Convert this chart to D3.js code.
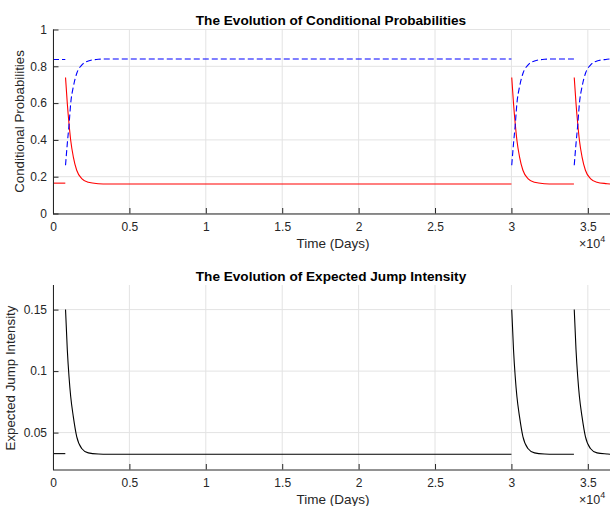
<!DOCTYPE html>
<html lang="en">
<head>
<meta charset="UTF-8">
<script src="https://d3js.org/d3.v7.min.js"></script>
<title>Conditional Probabilities</title>
<style>
  body { margin: 0; background: #fff; }
  text { font-family: "Liberation Sans", Arial, Helvetica, sans-serif; }
</style>
</head>
<body>
<div id="chart"></div>
<script>
// time points (days) of each segment
var seg0Days = [0, 805];
var seg1Days = [820, 936, 1047, 1158, 1329, 1551, 1878, 2310, 2965, 3600, 30000];
var seg2Days = [30020, 30136, 30247, 30358, 30529, 30751, 31078, 31510, 32165, 32800, 34090];
var seg3Days = [34110, 34226, 34337, 34448, 34619, 34841, 35168, 35600, 36255, 36450];

// conditional probabilities (red solid)
var red0 = [0.165, 0.165];
var red1 = [0.739, 0.598, 0.489, 0.398, 0.308, 0.235, 0.190, 0.170, 0.162, 0.160, 0.160];
var red2 = [0.739, 0.598, 0.489, 0.398, 0.308, 0.235, 0.190, 0.170, 0.162, 0.160, 0.160];
var red3 = [0.739, 0.598, 0.489, 0.398, 0.308, 0.235, 0.190, 0.170, 0.162, 0.160];

// conditional probabilities (blue dashed)
var blue0 = [0.837, 0.837];
var blue1 = [0.262, 0.380, 0.480, 0.598, 0.688, 0.761, 0.806, 0.829, 0.838, 0.840, 0.840];
var blue2 = [0.262, 0.380, 0.480, 0.598, 0.688, 0.761, 0.806, 0.829, 0.838, 0.840, 0.840];
var blue3 = [0.262, 0.380, 0.480, 0.598, 0.688, 0.761, 0.806, 0.829, 0.838, 0.840];

// expected jump intensity (black)
var jump0 = [0.0329, 0.0329];
var jump1 = [0.150, 0.1174, 0.0956, 0.0793, 0.063, 0.0467, 0.0371, 0.0335, 0.0326, 0.0324, 0.0324];
var jump2 = [0.150, 0.1174, 0.0956, 0.0793, 0.063, 0.0467, 0.0371, 0.0335, 0.0326, 0.0324, 0.0324];
var jump3 = [0.150, 0.1174, 0.0956, 0.0793, 0.063, 0.0467, 0.0371, 0.0335, 0.0326, 0.0324];

var xTicks = [0, 5000, 10000, 15000, 20000, 25000, 30000, 35000];
var probTicks = [0, 0.2, 0.4, 0.6, 0.8, 1];
var jumpTicks = [0.05, 0.1, 0.15];

var width = 610;
var height = 506;
var ink = "#262626";

var svg = d3.select("#chart").append("svg")
    .attr("width", width).attr("height", height);

var x = d3.scaleLinear().domain([0, 36450]).range([53, 610]);

function zip(days, vals) {
    return days.map(function(d, i) { return [d, vals[i]]; });
}

function panel(opt) {
    var y = d3.scaleLinear().domain(opt.yDomain).range([opt.bottom, opt.top]);
    var g = svg.append("g");

    // grid
    g.selectAll(".vg").data(xTicks).enter().append("line")
        .attr("x1", function(d) { return x(d); }).attr("x2", function(d) { return x(d); })
        .attr("y1", opt.top).attr("y2", opt.bottom)
        .attr("stroke", "#e3e3e3").attr("stroke-width", 1);
    g.selectAll(".hg").data(opt.yTicks).enter().append("line")
        .attr("x1", 53).attr("x2", 610)
        .attr("y1", function(d) { return y(d); }).attr("y2", function(d) { return y(d); })
        .attr("stroke", "#e3e3e3").attr("stroke-width", 1);

    // data
    var line = d3.line()
        .x(function(d) { return x(d[0]); })
        .y(function(d) { return y(d[1]); })
        .curve(d3.curveMonotoneX);
    opt.series.forEach(function(s) {
        s.segs.forEach(function(seg) {
            g.append("path")
                .attr("d", line(seg))
                .attr("fill", "none")
                .attr("stroke", s.color)
                .attr("stroke-width", 1.1)
                .attr("stroke-dasharray", s.dash || null);
        });
    });

    // axes (ticks inward)
    var xAxis = d3.axisBottom(x).tickValues(xTicks)
        .tickSize(-5.5).tickPadding(9)
        .tickFormat(function(d) { return d3.format("")(d / 10000); });
    var gx = g.append("g").attr("transform", "translate(0," + opt.bottom + ")").call(xAxis);
    var yAxis = d3.axisLeft(y).tickValues(opt.yTicks)
        .tickSize(-5.5).tickPadding(6)
        .tickFormat(d3.format(""));
    var gy = g.append("g").attr("transform", "translate(53,0)").call(yAxis);
    [gx, gy].forEach(function(a) {
        a.select(".domain").attr("stroke", ink);
        a.selectAll(".tick line").attr("stroke", ink);
        a.selectAll(".tick text").attr("fill", ink)
            .style("font-size", "12px")
            .style("font-family", "'Liberation Sans', Arial, sans-serif");
    });
    gy.select(".domain").attr("d", "M0.5," + opt.top + "V" + (opt.bottom + 0.5));
    gx.select(".domain").attr("d", "M53,0.5H610");

    // title
    g.append("text").attr("x", 331).attr("y", opt.top - 4.5)
        .attr("text-anchor", "middle").attr("font-weight", "bold")
        .attr("font-size", "13.6px").attr("fill", "#000")
        .text(opt.title);

    // labels
    g.append("text").attr("x", 333).attr("y", opt.bottom + 34)
        .attr("text-anchor", "middle").attr("font-size", "13.5px").attr("fill", ink)
        .text("Time (Days)");
    var ex = g.append("text").attr("x", 579).attr("y", opt.bottom + 34.5)
        .attr("font-size", "12.5px").attr("fill", ink);
    ex.append("tspan").text("\u00d710");
    ex.append("tspan").attr("dy", -6).attr("font-size", "9px").text("4");

    g.append("text")
        .attr("transform", "translate(" + opt.labelX + "," + opt.labelY + ") rotate(-90)")
        .attr("text-anchor", "middle").attr("font-size", "13.3px").attr("fill", ink)
        .text(opt.yLabel);
}

panel({
    top: 29.5, bottom: 213.5,
    yDomain: [0, 1], yTicks: probTicks,
    title: "The Evolution of Conditional Probabilities",
    yLabel: "Conditional Probabilities", labelX: 23.5, labelY: 121.5,
    series: [
        { color: "#ff0000", segs: [zip(seg0Days, red0), zip(seg1Days, red1), zip(seg2Days, red2), zip(seg3Days, red3)] },
        { color: "#0000ff", dash: "6,3", segs: [zip(seg0Days, blue0), zip(seg1Days, blue1), zip(seg2Days, blue2), zip(seg3Days, blue3)] }
    ]
});

panel({
    top: 285, bottom: 469.5,
    yDomain: [0.02, 0.17], yTicks: jumpTicks,
    title: "The Evolution of Expected Jump Intensity",
    yLabel: "Expected Jump Intensity", labelX: 15, labelY: 378,
    series: [
        { color: "#000000", segs: [zip(seg0Days, jump0), zip(seg1Days, jump1), zip(seg2Days, jump2), zip(seg3Days, jump3)] }
    ]
});
</script>
</body>
</html>
